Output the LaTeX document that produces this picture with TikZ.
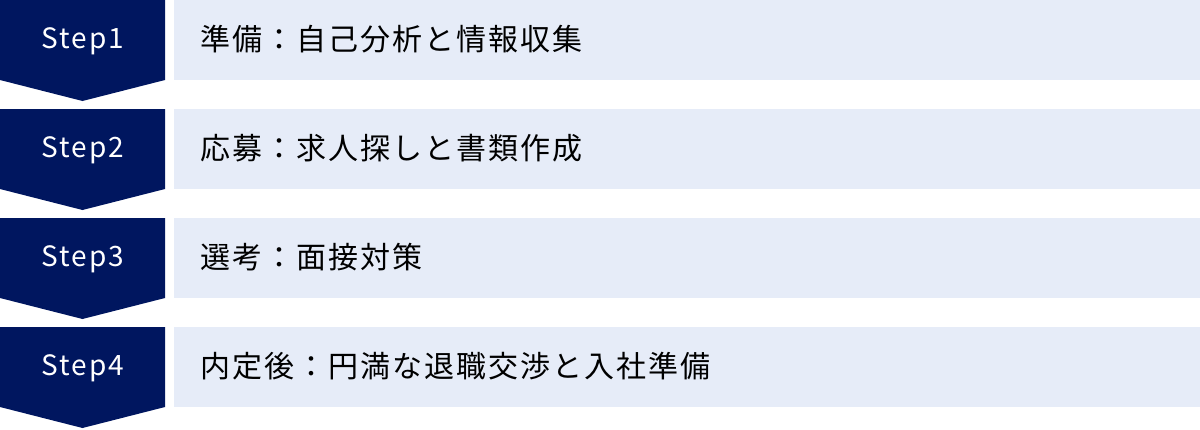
\documentclass[tikz,border=0pt]{standalone}
\usepackage{fontspec}
\newfontfamily\jpfont[LetterSpace=6.7]{Noto Sans CJK JP}
\newfontfamily\stepfont[LetterSpace=7]{Noto Sans CJK JP}
\definecolor{navy}{HTML}{00165F}
\definecolor{lightbox}{HTML}{E6ECF8}
\tikzset{
  chev/.style={fill=navy},
  steplabel/.style={text=white,font=\stepfont\fontsize{28}{32}\selectfont,anchor=center,inner sep=0pt},
  textbox/.style={fill=lightbox,minimum width=1026pt,minimum height=80pt,anchor=north west,inner sep=0pt},
  boxlabel/.style={text=black,font=\jpfont\fontsize{30}{34}\selectfont,anchor=west,inner sep=0pt}
}
\begin{document}
\begin{tikzpicture}[x=1pt,y=-1pt]
\useasboundingbox (0,0) rectangle (1200,429);
\foreach \i/\st/\txt in {0/Step1/準備：自己分析と情報収集,1/Step2/応募：求人探しと書類作成,2/Step3/選考：面接対策,3/Step4/内定後：円満な退職交渉と入社準備}{
  \pgfmathsetmacro{\y}{\i*109}
  \fill[chev] (0,\y) -- (165,\y) -- (165,\y+80) -- (82.5,\y+101) -- (0,\y+80) -- cycle;
  \node[steplabel] (step\i) at (83,\y+41) {\st};
  \node[textbox] (box\i) at (174,\y) {};
  \node[boxlabel] (lab\i) at (200,\y+39) {\txt};
}
\end{tikzpicture}
\end{document}
